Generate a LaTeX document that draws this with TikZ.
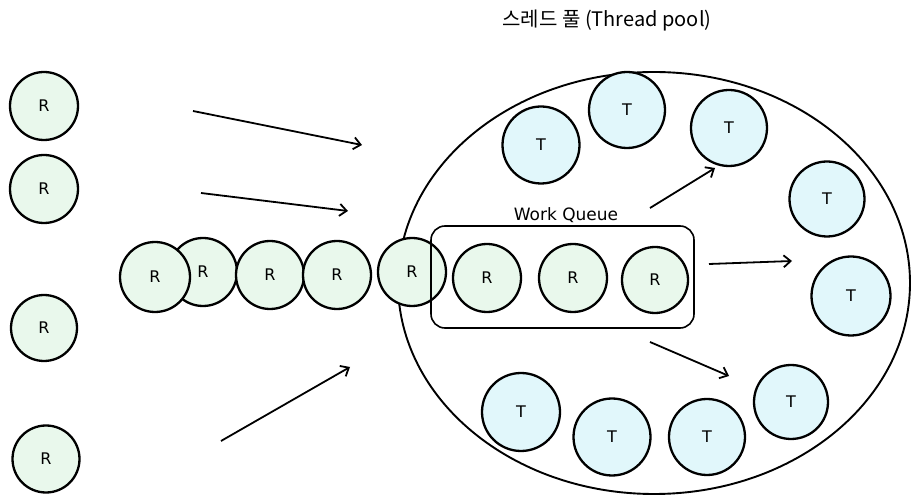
\documentclass[tikz,border=0pt]{standalone}
\usepackage{fontspec}
\setmainfont{Noto Sans CJK KR}
\newfontfamily\latinf{DejaVu Sans}
\usetikzlibrary{arrows.meta,shapes.geometric}
\definecolor{rfill}{HTML}{E9F8EC}
\definecolor{tfill}{HTML}{E1F7FB}
\tikzset{
  x=1pt,y=-1pt,
  rnode/.style={circle,draw=black,line width=2.3pt,fill=rfill,minimum size=#1,inner sep=0pt,font=\latinf\fontsize{16}{18}\selectfont},
  tnode/.style={circle,draw=black,line width=2.3pt,fill=tfill,minimum size=#1,inner sep=0pt,font=\latinf\fontsize{16}{18}\selectfont},
  flow/.style={line width=1.8pt,-{Straight Barb[length=7pt,width=12pt]}},
}
\begin{document}
\begin{tikzpicture}
\useasboundingbox (0,0) rectangle (916,502);
% title
\node (title) at (607,21) {\fontsize{20}{22}\selectfont 스레드 풀 (Thread pool)};
% pool ellipse
\node (pool) [ellipse,draw=black,line width=1.9pt,minimum width=512pt,minimum height=422pt,inner sep=0pt] at (654,283) {};
% left requests
\node (l1) [rnode=68pt] at (44,106) {R};
\node (l2) [rnode=68pt] at (44,189) {R};
\node (l3) [rnode=66pt] at (44,328) {R};
\node (l4) [rnode=67pt] at (46,459) {R};
% arrows
\coordinate (a1s) at (193,111); \coordinate (a1e) at (362,145);
\coordinate (a2s) at (201,193); \coordinate (a2e) at (348,211);
\coordinate (a3s) at (221,441); \coordinate (a3e) at (350,367);
\draw[flow] (a1s) -- (a1e);
\draw[flow] (a2s) -- (a2e);
\draw[flow] (a3s) -- (a3e);
% incoming row
\node (r2) [rnode=68pt] at (203,272) {R};
\node (r1) [rnode=70pt] at (155,277) {R};
\node (r3) [rnode=68pt] at (270,275) {R};
\node (r4) [rnode=68pt] at (337,275) {R};
\node (r5) [rnode=68pt] at (412,272) {R};
% work queue
\node (wq) [draw=black,line width=1.6pt,rounded corners=14pt,minimum width=263pt,minimum height=102pt] at (562.5,277) {};
\node (wql) at (566,215) {\latinf\fontsize{17}{19}\selectfont Work Queue};
\node (q1) [rnode=68pt] at (487,278) {R};
\node (q2) [rnode=68pt] at (573,278) {R};
\node (q3) [rnode=66pt] at (655,280) {R};
% threads
\node (t1) [tnode=77pt] at (541,145) {T};
\node (t2) [tnode=76pt] at (627,110) {T};
\node (t3) [tnode=76pt] at (729,128) {T};
\node (t4) [tnode=75pt] at (827,199) {T};
\node (t5) [tnode=79pt] at (851,296) {T};
\node (t6) [tnode=78pt] at (521,412) {T};
\node (t7) [tnode=77pt] at (612,437) {T};
\node (t8) [tnode=76pt] at (707,437) {T};
\node (t9) [tnode=74pt] at (791,402) {T};
% dispatch arrows
\coordinate (d1s) at (650,208); \coordinate (d1e) at (715,168);
\coordinate (d2s) at (709,264); \coordinate (d2e) at (792,261);
\coordinate (d3s) at (650,342); \coordinate (d3e) at (729,376);
\draw[flow] (d1s) -- (d1e);
\draw[flow] (d2s) -- (d2e);
\draw[flow] (d3s) -- (d3e);
\end{tikzpicture}
\end{document}
